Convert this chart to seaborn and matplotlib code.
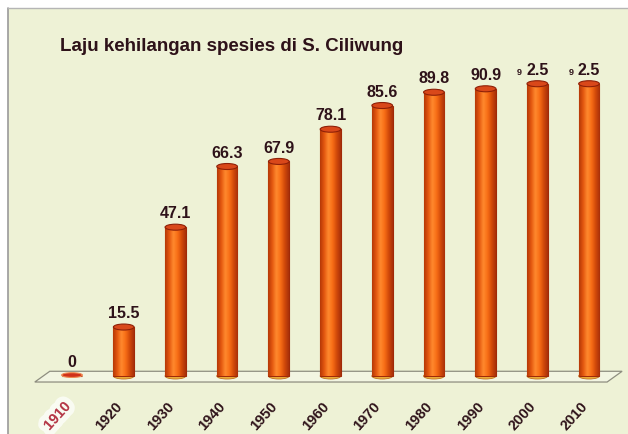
import numpy as np
import pandas as pd
import matplotlib
matplotlib.use('Agg')
import matplotlib.pyplot as plt
import matplotlib.transforms as mtransforms
from matplotlib.patches import Ellipse, Polygon, Rectangle
from matplotlib.lines import Line2D
from matplotlib.colors import LinearSegmentedColormap
from matplotlib import patheffects
import seaborn as sns

# data
years = ['1910', '1920', '1930', '1940', '1950', '1960',
         '1970', '1980', '1990', '2000', '2010']
loss = [0, 15.5, 47.1, 66.3, 67.9, 78.1, 85.6, 89.8, 90.9, 92.5, 92.5]
value_labels = ['0', '15.5', '47.1', '66.3', '67.9', '78.1',
                '85.6', '89.8', '90.9', '9 2.5', '9 2.5']
title = 'Laju kehilangan spesies di S. Ciliwung'

bg = '#EEF2D6'
ink = '#2E1219'

sns.set_theme(style='white')
plt.rcParams['font.family'] = ['Liberation Sans', 'DejaVu Sans']

fig = plt.figure(figsize=(6.28, 4.34), dpi=100, facecolor='white')

# panel background with grey left/top border
fig.add_artist(Rectangle((8 / 628, 0), 1, 1 - 8 / 434, transform=fig.transFigure,
                         facecolor=bg, edgecolor='none', zorder=0))
fig.add_artist(Line2D([8 / 628, 8 / 628], [0, 1 - 8 / 434], transform=fig.transFigure,
                      color='#9A9A9A', lw=1.2, zorder=1))
fig.add_artist(Line2D([8 / 628, 1], [1 - 8 / 434, 1 - 8 / 434], transform=fig.transFigure,
                      color='#B5B5B5', lw=1.0, zorder=1))

ax = fig.add_axes([0.0735, 0.0972, 0.9056, 0.7645])
ax.set_facecolor('none')

df = pd.DataFrame({'year': years, 'loss': loss})
sns.barplot(data=df, x='year', y='loss', color='#F26A12', width=0.4, ax=ax,
            edgecolor='#A02A08', linewidth=0.8, saturation=1, zorder=3)

# floor plate
floor = Polygon([(-0.72, -1.9), (-0.43, 1.5), (10.64, 1.5), (10.35, -1.9)],
                closed=True, facecolor='#F2F5E2', edgecolor='#8E8E80', lw=0.9,
                zorder=1, clip_on=False)
ax.add_patch(floor)

cmap = LinearSegmentedColormap.from_list(
    'cyl', ['#B53806', '#E45810', '#FF8A2E', '#F86E16', '#D24A0A', '#A8300A'])
grad = np.linspace(0, 1, 64).reshape(1, -1)
eh = 1.9

for p, lab in zip(ax.patches, value_labels):
    x0, w, h = p.get_x(), p.get_width(), p.get_height()
    xc = x0 + w / 2
    if h > 0:
        im = ax.imshow(grad, cmap=cmap, extent=[x0, x0 + w, 0, h], aspect='auto',
                       zorder=3.5, interpolation='bicubic')
        im.set_clip_path(p)
        ax.add_patch(Ellipse((xc, 0), w, eh, facecolor='#F0B23A', edgecolor='#C07020',
                             lw=0.6, zorder=2.5))
        ax.add_patch(Ellipse((xc, h), w, eh, facecolor='#D9481A', edgecolor='#8E2008',
                             lw=0.8, zorder=4))
    else:
        ax.add_patch(Ellipse((xc, 0.3), w, 1.5, facecolor='#D0301A', edgecolor='#F08A50',
                             lw=0.8, zorder=4))
    top = h + eh / 2
    if ' ' in lab:
        pre, main = lab.split(' ')
        ax.annotate(main, (xc, top), xytext=(0, 2), textcoords='offset points',
                    ha='center', va='bottom', fontsize=11.5, fontweight='bold',
                    color=ink, zorder=5)
        ax.annotate(pre, (xc, top), xytext=(-11, 3), textcoords='offset points',
                    ha='right', va='bottom', fontsize=6.5, fontweight='bold',
                    color=ink, zorder=5)
    else:
        ax.annotate(lab, (xc, top), xytext=(0, 2), textcoords='offset points',
                    ha='center', va='bottom', fontsize=11.5, fontweight='bold',
                    color=ink, zorder=5)

ax.set_ylim(-5, 100)
ax.set_xlim(-0.5, 10.5)

ax.set_xticks(range(len(years)))
ax.set_xticklabels(years, rotation=48, ha='right', va='center', rotation_mode='anchor',
                   fontsize=10.5, fontweight='bold', color=ink)
ax.tick_params(axis='x', length=0, pad=9)
shift = mtransforms.ScaledTranslation(-4 / 100, 0, fig.dpi_scale_trans)
for t in ax.get_xticklabels():
    t.set_transform(t.get_transform() + shift)
first = ax.get_xticklabels()[0]
first.set_color('#B53A48')
first.set_path_effects([patheffects.withStroke(linewidth=8, foreground='white', alpha=0.7)])

ax.set_yticks([])
ax.set_xlabel('')
ax.set_ylabel('')
sns.despine(ax=ax, left=True, bottom=True)

fig.text(60 / 628, 1 - 51 / 434, title, fontsize=13.5, fontweight='bold',
         color=ink, ha='left', va='baseline')

fig.savefig('out.png', dpi=100, facecolor='white')
